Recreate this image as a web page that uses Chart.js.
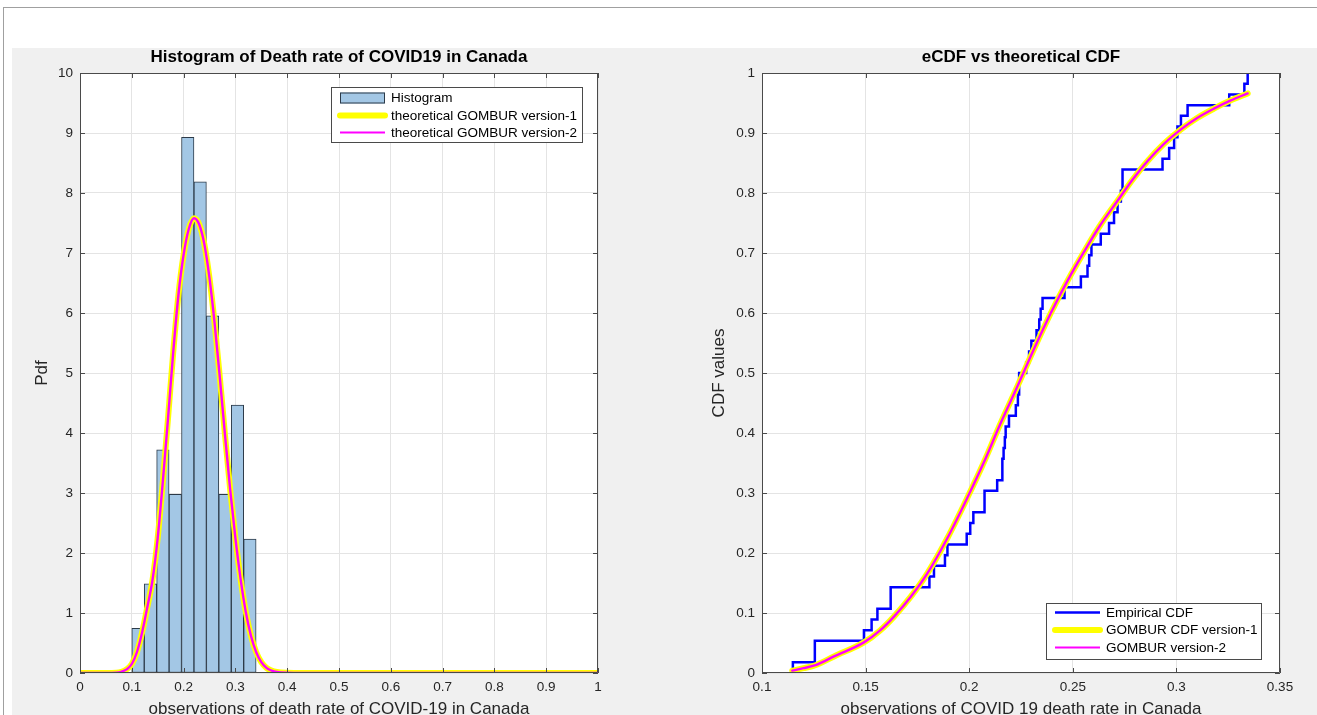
<!DOCTYPE html>
<html>
<head>
<meta charset="utf-8">
<script src="https://cdn.jsdelivr.net/npm/chart.js@4.4.1/dist/chart.umd.min.js"></script>
<style>
  html, body { margin:0; padding:0; background:#ffffff; width:1317px; height:715px; overflow:hidden; }
  #frameTop { position:absolute; left:3px; top:7px; width:1314px; height:1px; background:#a0a0a0; }
  #frameLeft { position:absolute; left:3px; top:7px; width:1px; height:708px; background:#a0a0a0; }
  #fig { position:absolute; left:12px; top:48px; width:1305px; height:667px; background:#f0f0f0; }
  canvas { position:absolute; top:0; }
  #c1 { left:0; }
  #c2 { left:660px; }
</style>
</head>
<body>
<div id="frameTop"></div>
<div id="frameLeft"></div>
<div id="fig"></div>
<canvas id="c1" width="660" height="715"></canvas>
<canvas id="c2" width="657" height="715"></canvas>
<script>
// ---------------- DATA ----------------
// Histogram (pdf-normalised), bin centres and heights
const histBinCenters = [0.112, 0.136, 0.160, 0.184, 0.208, 0.232, 0.256, 0.280, 0.304, 0.328];
const histPdf        = [0.744, 1.488, 3.720, 2.976, 8.929, 8.185, 5.952, 2.976, 4.464, 2.232];

// Theoretical GOMBUR pdf
const pdfX = [0, 0.05, 0.07, 0.08, 0.09, 0.10, 0.11, 0.12, 0.13, 0.14, 0.15, 0.16, 0.17, 0.18, 0.19,
              0.20, 0.21, 0.22, 0.23, 0.24, 0.25, 0.26, 0.27, 0.28, 0.29, 0.30, 0.31, 0.32, 0.33,
              0.34, 0.35, 0.36, 0.37, 0.38, 0.40, 0.43, 0.50, 0.60, 0.70, 0.80, 0.90, 1.00];
const pdfV1 = [0, 0, 0.004, 0.02, 0.06, 0.15, 0.35, 0.68, 1.10, 1.55, 2.25, 3.20, 4.25, 5.35, 6.30,
               6.97, 7.40, 7.58, 7.48, 7.15, 6.58, 5.82, 4.92, 3.96, 3.05, 2.25, 1.57, 1.02, 0.62,
               0.35, 0.18, 0.085, 0.04, 0.018, 0.004, 0, 0, 0, 0, 0, 0, 0];
const pdfV2 = [0, 0, 0.004, 0.02, 0.06, 0.15, 0.35, 0.68, 1.10, 1.55, 2.25, 3.20, 4.25, 5.35, 6.30,
               6.97, 7.40, 7.58, 7.48, 7.15, 6.58, 5.82, 4.92, 3.96, 3.05, 2.25, 1.57, 1.02, 0.62,
               0.35, 0.18, 0.085, 0.04, 0.018, 0.004, 0, 0, 0, 0, 0, 0, 0];

// Empirical CDF (jump positions and levels after each jump)
const ecdfX = [0.1149, 0.1149, 0.1255, 0.1492, 0.1529, 0.1557, 0.1621, 0.1808, 0.1830, 0.1883, 0.1895,
               0.1988, 0.2005, 0.2020, 0.2074, 0.2135, 0.2160, 0.2166, 0.2172, 0.2176, 0.2192,
               0.2225, 0.2235, 0.2241, 0.2275, 0.2289, 0.2300, 0.2325, 0.2338, 0.2345, 0.2354,
               0.2460, 0.2539, 0.2571, 0.2579, 0.2590, 0.2635, 0.2675, 0.2699, 0.2716, 0.2732,
               0.2740, 0.2933, 0.2965, 0.2989, 0.3005, 0.3022, 0.3054, 0.3255, 0.3328, 0.3344];
const ecdfY = [0, 0.0179, 0.0536, 0.0714, 0.0893, 0.1071, 0.1429, 0.1607, 0.1786, 0.1964, 0.2143,
               0.2321, 0.2500, 0.2679, 0.3036, 0.3214, 0.3571, 0.3750, 0.3929, 0.4107, 0.4286,
               0.4464, 0.4643, 0.5000, 0.5179, 0.5357, 0.5536, 0.5714, 0.5893, 0.6071, 0.6250,
               0.6429, 0.6607, 0.6786, 0.6964, 0.7143, 0.7321, 0.7500, 0.7679, 0.7857, 0.8036,
               0.8393, 0.8571, 0.8750, 0.8929, 0.9107, 0.9286, 0.9464, 0.9643, 0.9821, 1.0000];

// Theoretical GOMBUR CDF
const cdfX  = [0.1146, 0.120, 0.1258, 0.135, 0.1492, 0.157, 0.1637, 0.172, 0.1798, 0.1895, 0.1991,
               0.2072, 0.215, 0.2233, 0.231, 0.2394, 0.2475, 0.2556, 0.263, 0.2716, 0.279, 0.286,
               0.294, 0.3022, 0.310, 0.3183, 0.326, 0.3344];
const cdfV1 = [0.004, 0.008, 0.013, 0.028, 0.051, 0.071, 0.094, 0.128, 0.166, 0.225, 0.292,
               0.352, 0.415, 0.478, 0.538, 0.600, 0.654, 0.703, 0.745, 0.787, 0.823, 0.853,
               0.882, 0.906, 0.925, 0.941, 0.954, 0.966];
const cdfV2 = [0.004, 0.008, 0.013, 0.028, 0.051, 0.071, 0.094, 0.128, 0.166, 0.225, 0.292,
               0.352, 0.415, 0.478, 0.538, 0.600, 0.654, 0.703, 0.745, 0.787, 0.823, 0.853,
               0.882, 0.906, 0.925, 0.941, 0.954, 0.966];

// Tick values and labels
const histXTicks  = [0, 0.1, 0.2, 0.3, 0.4, 0.5, 0.6, 0.7, 0.8, 0.9, 1];
const histXLabels = ['0', '0.1', '0.2', '0.3', '0.4', '0.5', '0.6', '0.7', '0.8', '0.9', '1'];
const histYTicks  = [0, 1, 2, 3, 4, 5, 6, 7, 8, 9, 10];
const histYLabels = ['0', '1', '2', '3', '4', '5', '6', '7', '8', '9', '10'];
const cdfXTicks   = [0.1, 0.15, 0.2, 0.25, 0.3, 0.35];
const cdfXLabels  = ['0.1', '0.15', '0.2', '0.25', '0.3', '0.35'];
const cdfYTicks   = [0, 0.1, 0.2, 0.3, 0.4, 0.5, 0.6, 0.7, 0.8, 0.9, 1];
const cdfYLabels  = ['0', '0.1', '0.2', '0.3', '0.4', '0.5', '0.6', '0.7', '0.8', '0.9', '1'];

// Texts
const leftTitle   = 'Histogram of Death rate of COVID19 in Canada';
const leftXLabel  = 'observations of death rate of COVID-19 in Canada';
const leftYLabel  = 'Pdf';
const leftLegend  = ['Histogram', 'theoretical GOMBUR version-1', 'theoretical GOMBUR version-2'];
const rightTitle  = 'eCDF vs theoretical CDF';
const rightXLabel = 'observations of COVID 19 death rate in Canada';
const rightYLabel = 'CDF values';
const rightLegend = ['Empirical CDF', 'GOMBUR CDF version-1', 'GOMBUR version-2'];

// ---------------- STYLE / LAYOUT ----------------
const FONT = '"Liberation Sans", Arial, Helvetica, sans-serif';
const AXIS_COL = '#4a4a4a';
const TEXT_COL = '#262626';
const GRID_COL = '#e4e4e4';
const BAR_FILL = '#a3c7e5';
const BAR_EDGE = '#2c3a48';
const YELLOW = '#ffff00';
const MAGENTA = '#ff00ff';
const BLUE = '#0000ff';

function pts(xs, ys) { return xs.map((x, i) => ({ x: x, y: ys[i] })); }

function setTicks(values) {
  return function (scale) { scale.ticks = values.map(v => ({ value: v })); };
}

function decorPlugin(L) {
  return {
    id: 'decor',
    beforeDraw(chart) {
      const { ctx, chartArea: a } = chart;
      ctx.save();
      ctx.fillStyle = '#ffffff';
      ctx.fillRect(a.left, a.top, a.right - a.left, a.bottom - a.top);
      ctx.restore();
    },
    afterDatasetsDraw(chart) {
      const { ctx, chartArea: a } = chart;
      const xs = chart.scales.x, ys = chart.scales.y;
      ctx.save();
      ctx.strokeStyle = AXIS_COL;
      ctx.lineWidth = 1;
      ctx.beginPath();
      ctx.rect(Math.round(a.left) + 0.5, Math.round(a.top) + 0.5,
               Math.round(a.right - a.left) - 1, Math.round(a.bottom - a.top) - 1);
      ctx.stroke();
      const tl = 5;
      ctx.beginPath();
      xs.ticks.forEach(t => {
        const px = Math.round(xs.getPixelForValue(t.value)) + 0.5;
        ctx.moveTo(px, a.bottom); ctx.lineTo(px, a.bottom - tl);
        ctx.moveTo(px, a.top); ctx.lineTo(px, a.top + tl);
      });
      ys.ticks.forEach(t => {
        const py = Math.round(ys.getPixelForValue(t.value)) + 0.5;
        ctx.moveTo(a.left, py); ctx.lineTo(a.left + tl, py);
        ctx.moveTo(a.right, py); ctx.lineTo(a.right - tl, py);
      });
      ctx.stroke();
      ctx.restore();
    },
    afterDraw(chart) {
      const ctx = chart.ctx;
      const ox = L.offsetX;
      ctx.save();
      // title
      ctx.fillStyle = '#000000';
      ctx.font = 'bold 17px ' + FONT;
      ctx.textAlign = 'center';
      ctx.textBaseline = 'middle';
      ctx.fillText(L.title, L.titleX - ox, L.titleY);
      // x label
      ctx.fillStyle = TEXT_COL;
      ctx.font = '17px ' + FONT;
      ctx.fillText(L.xLabel, L.titleX - ox, L.xLabelY);
      // y label
      ctx.save();
      ctx.translate(L.yLabelX - ox, L.yLabelY);
      ctx.rotate(-Math.PI / 2);
      ctx.fillText(L.yLabel, 0, 0);
      ctx.restore();
      // legend
      const b = L.legendBox;
      ctx.fillStyle = '#ffffff';
      ctx.fillRect(b[0] - ox, b[1], b[2] - b[0], b[3] - b[1]);
      ctx.strokeStyle = AXIS_COL;
      ctx.lineWidth = 1;
      ctx.strokeRect(b[0] - ox + 0.5, b[1] + 0.5, b[2] - b[0] - 1, b[3] - b[1] - 1);
      ctx.font = '13.5px ' + FONT;
      ctx.textAlign = 'left';
      ctx.textBaseline = 'middle';
      L.legendItems.forEach((it, i) => {
        const y = L.legendRows[i];
        const x0 = L.sampleX[0] - ox, x1 = L.sampleX[1] - ox;
        if (it.kind === 'patch') {
          ctx.fillStyle = BAR_FILL;
          ctx.fillRect(x0, y - 5.5, x1 - x0, 11);
          ctx.strokeStyle = BAR_EDGE;
          ctx.lineWidth = 1;
          ctx.strokeRect(x0 + 0.5, y - 5.5 + 0.5, x1 - x0 - 1, 10);
        } else {
          ctx.strokeStyle = it.color;
          ctx.lineWidth = it.width;
          ctx.lineCap = it.width > 3 ? 'round' : 'butt';
          ctx.beginPath();
          ctx.moveTo(x0, y); ctx.lineTo(x1, y);
          ctx.stroke();
        }
        ctx.fillStyle = '#000000';
        ctx.fillText(it.label, L.textX - ox, y + 0.5);
      });
      ctx.restore();
    }
  };
}

function scaleOpts(min, max, ticks, labels, fixedSize, isX) {
  return {
    type: 'linear',
    min: min, max: max,
    offset: false,
    grid: { color: GRID_COL, lineWidth: 1, drawTicks: false, offset: false },
    border: { display: false },
    afterBuildTicks: setTicks(ticks),
    afterFit: isX ? (s) => { s.height = fixedSize; } : (s) => { s.width = fixedSize; },
    ticks: {
      autoSkip: false, maxRotation: 0, minRotation: 0,
      padding: isX ? 6 : 7,
      color: TEXT_COL,
      font: { family: FONT, size: 13.5 },
      callback: (v, i) => labels[i]
    }
  };
}

const commonOpts = {
  responsive: false,
  animation: false,
  devicePixelRatio: 1,
  events: [],
  plugins: { legend: { display: false }, tooltip: { enabled: false }, title: { display: false } }
};

// ---------------- LEFT CHART ----------------
const leftLayout = {
  offsetX: 0,
  title: leftTitle, xLabel: leftXLabel, yLabel: leftYLabel,
  titleX: 339, titleY: 57, xLabelY: 709, yLabelX: 42, yLabelY: 373,
  legendBox: [331, 87, 583, 143],
  legendRows: [98, 115.5, 132.5],
  sampleX: [340, 385], textX: 391,
  legendItems: [
    { kind: 'patch', label: leftLegend[0] },
    { kind: 'line', label: leftLegend[1], color: YELLOW, width: 6 },
    { kind: 'line', label: leftLegend[2], color: MAGENTA, width: 2 }
  ]
};

new Chart(document.getElementById('c1'), {
  type: 'bar',
  data: {
    datasets: [
      { type: 'line', label: leftLegend[2], data: pts(pdfX, pdfV2), borderColor: MAGENTA, borderWidth: 2.4,
        pointRadius: 0, cubicInterpolationMode: 'monotone', borderJoinStyle: 'round', borderCapStyle: 'round', order: 0 },
      { type: 'line', label: leftLegend[1], data: pts(pdfX, pdfV1), borderColor: YELLOW, borderWidth: 6,
        pointRadius: 0, cubicInterpolationMode: 'monotone', borderJoinStyle: 'round', borderCapStyle: 'round', order: 1 },
      { type: 'bar', label: leftLegend[0], data: pts(histBinCenters, histPdf), backgroundColor: BAR_FILL,
        borderColor: BAR_EDGE, borderWidth: 1, borderSkipped: false, barPercentage: 1, categoryPercentage: 1,
        grouped: false, order: 2 }
    ]
  },
  options: Object.assign({}, commonOpts, {
    layout: { padding: { left: 0, top: 73, right: 62, bottom: 0 } },
    scales: {
      x: scaleOpts(0, 1, histXTicks, histXLabels, 42, true),
      y: scaleOpts(0, 10, histYTicks, histYLabels, 80, false)
    }
  }),
  plugins: [decorPlugin(leftLayout)]
});

// ---------------- RIGHT CHART ----------------
const rightLayout = {
  offsetX: 660,
  title: rightTitle, xLabel: rightXLabel, yLabel: rightYLabel,
  titleX: 1021, titleY: 57, xLabelY: 709, yLabelX: 719, yLabelY: 373,
  legendBox: [1046, 603, 1262, 660],
  legendRows: [612.5, 630, 647.5],
  sampleX: [1055, 1100], textX: 1106,
  legendItems: [
    { kind: 'line', label: rightLegend[0], color: BLUE, width: 2.5 },
    { kind: 'line', label: rightLegend[1], color: YELLOW, width: 6 },
    { kind: 'line', label: rightLegend[2], color: MAGENTA, width: 2 }
  ]
};

new Chart(document.getElementById('c2'), {
  type: 'line',
  data: {
    datasets: [
      { label: rightLegend[2], data: pts(cdfX, cdfV2), borderColor: MAGENTA, borderWidth: 2.4, pointRadius: 0,
        cubicInterpolationMode: 'monotone', borderJoinStyle: 'round', borderCapStyle: 'round', order: 0 },
      { label: rightLegend[1], data: pts(cdfX, cdfV1), borderColor: YELLOW, borderWidth: 6, pointRadius: 0,
        cubicInterpolationMode: 'monotone', borderJoinStyle: 'round', borderCapStyle: 'round', order: 1 },
      { label: rightLegend[0], data: pts(ecdfX, ecdfY), borderColor: BLUE, borderWidth: 2.5, pointRadius: 0,
        stepped: 'before', borderJoinStyle: 'miter', order: 2 }
    ]
  },
  options: Object.assign({}, commonOpts, {
    layout: { padding: { left: 0, top: 73, right: 37, bottom: 0 } },
    scales: {
      x: scaleOpts(0.1, 0.35, cdfXTicks, cdfXLabels, 42, true),
      y: scaleOpts(0, 1, cdfYTicks, cdfYLabels, 102, false)
    }
  }),
  plugins: [decorPlugin(rightLayout)]
});
</script>
</body>
</html>
